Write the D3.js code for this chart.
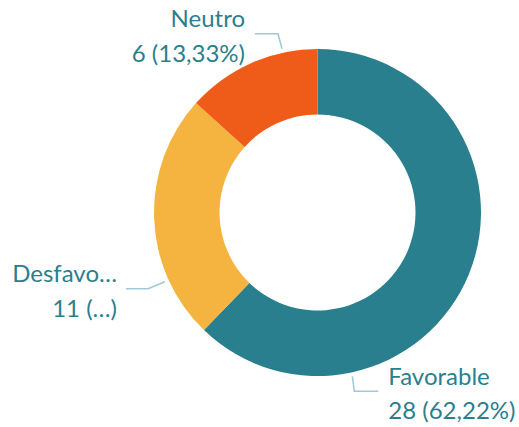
<!DOCTYPE html>
<html>
<head>
<meta charset="utf-8">
<script src="https://cdn.jsdelivr.net/npm/d3@7"></script>
<style>
  html, body { margin: 0; padding: 0; background: #fff; }
  svg { display: block; }
</style>
</head>
<body>
<div id="chart"></div>
<script>
// data
var categories = ["Favorable", "Desfavorable", "Neutro"];
var values = [28, 11, 6];
var labelNames = ["Favorable", "Desfavo\u2026", "Neutro"];
var labelValues = ["28 (62,22%)", "11 (\u2026)", "6 (13,33%)"];
var colors = ["#297F8E", "#F5B43F", "#EF5C1A"];

var W = 519, H = 427;
var cx = 317.5, cy = 212.5, rOut = 163.5, rIn = 98;

var svg = d3.select("#chart").append("svg")
  .attr("width", W)
  .attr("height", H);

var g = svg.append("g")
  .attr("transform", "translate(" + cx + "," + cy + ")");

var pie = d3.pie().sort(null).value(function(d) { return d; });
var arcs = pie(values);

var arc = d3.arc().innerRadius(rIn).outerRadius(rOut);

g.selectAll("path.slice")
  .data(arcs)
  .enter()
  .append("path")
  .attr("class", "slice")
  .attr("d", arc)
  .attr("fill", function(d, i) { return colors[i]; });

// label layout: where on slice the leader starts (fraction of the slice), and where the text goes
var lbl = [
  { frac: 0.75, elbow: [2, 15], end: [24, 0], anchor: "start", tx: 10 },
  { frac: 0.245, elbow: [-17, 7], end: [-22, 0], anchor: "end", tx: -9 },
  { frac: 0.745, elbow: [-4, -15], end: [-23, 0], anchor: "end", tx: -10 }
];

function leaderPts(d, i) {
  var L = lbl[i];
  var a = d.startAngle + (d.endAngle - d.startAngle) * L.frac;
  var r = rOut + 4;
  var p0 = [r * Math.sin(a), -r * Math.cos(a)];
  var p1 = [p0[0] + L.elbow[0], p0[1] + L.elbow[1]];
  var p2 = [p1[0] + L.end[0], p1[1] + L.end[1]];
  return [p0, p1, p2];
}

var labels = g.selectAll("g.lbl")
  .data(arcs)
  .enter()
  .append("g")
  .attr("class", "lbl");

labels.append("polyline")
  .attr("points", function(d, i) { return leaderPts(d, i).map(function(p) { return p.join(","); }).join(" "); })
  .attr("fill", "none")
  .attr("stroke", "#9CCAD2")
  .attr("stroke-width", 1.5);

labels.each(function(d, i) {
  var pts = leaderPts(d, i);
  var p = pts[2];
  var t = d3.select(this).append("text")
    .attr("text-anchor", lbl[i].anchor)
    .attr("font-family", "Lato, 'Open Sans', sans-serif")
    .attr("font-size", 24)
    .attr("fill", "#2A7F8E");
  t.append("tspan")
    .attr("x", p[0] + lbl[i].tx)
    .attr("y", p[1] - 6.5)
    .text(labelNames[i]);
  t.append("tspan")
    .attr("x", p[0] + lbl[i].tx)
    .attr("y", p[1] + 28)
    .text(labelValues[i]);
});
</script>
</body>
</html>
